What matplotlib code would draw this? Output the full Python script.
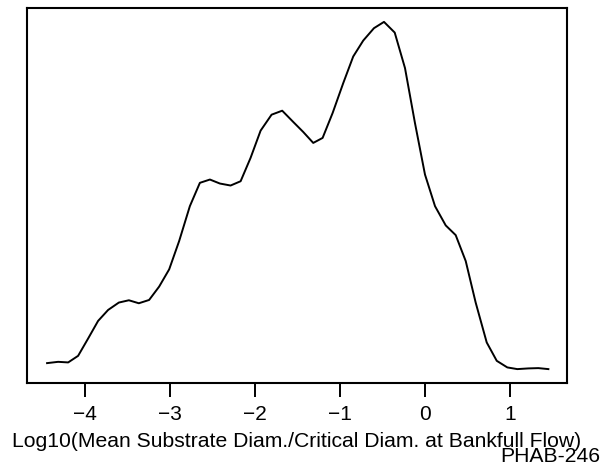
import matplotlib
matplotlib.use("Agg")
import matplotlib.pyplot as plt

plt.rcParams['font.family'] = ['Liberation Sans', 'DejaVu Sans']

x_vals = [-4.444, -4.314, -4.196, -4.079, -3.961, -3.844, -3.726, -3.600, -3.482, -3.365,
          -3.244, -3.126, -3.008, -2.891, -2.765, -2.647, -2.529, -2.412, -2.286, -2.168,
          -2.051, -1.933, -1.804, -1.679, -1.549, -1.432, -1.314, -1.204, -1.086, -0.961,
          -0.844, -0.726, -0.600, -0.482, -0.356, -0.235, -0.118, 0.000, 0.118, 0.244,
          0.361, 0.479, 0.596, 0.726, 0.844, 0.968, 1.086, 1.215, 1.333, 1.451]
density = [0.0060, 0.0073, 0.0067, 0.0133, 0.0307, 0.0483, 0.0593, 0.0667, 0.0690, 0.0660,
           0.0693, 0.0827, 0.1000, 0.1283, 0.1633, 0.1867, 0.1900, 0.1860, 0.1840, 0.1883,
           0.2117, 0.2390, 0.2550, 0.2590, 0.2477, 0.2377, 0.2267, 0.2317, 0.2567, 0.2867,
           0.3133, 0.3293, 0.3417, 0.3480, 0.3373, 0.3017, 0.2467, 0.1950, 0.1633, 0.1440,
           0.1343, 0.1083, 0.0667, 0.0267, 0.0083, 0.0017, 0.0000, 0.0007, 0.0010, 0.0000]
x_ticks = [-4, -3, -2, -1, 0, 1]
x_label = "Log10(Mean Substrate Diam./Critical Diam. at Bankfull Flow)"
corner_note = "PHAB-246"

W, H = 604, 465
fig = plt.figure(figsize=(W / 100, H / 100), dpi=100)
ax = fig.add_axes([27 / W, 1 - 383 / H, (567 - 27) / W, (383 - 8) / H])

ax.plot(x_vals, density, color='black', lw=1.4)

ax.set_xlim(-4.68, 1.67)
ymin, ymax = min(density), max(density)
yr = ymax - ymin
ax.set_ylim(ymin - 0.04 * yr, ymax + 0.04 * yr)

ax.set_yticks([])
ax.set_xticks(x_ticks)
ax.set_xticklabels([str(t).replace('-', '\u2212') for t in x_ticks])
ax.tick_params(axis='x', length=10, width=1.4, pad=6, labelsize=15, direction='out')
for s in ax.spines.values():
    s.set_linewidth(1.5)

fig.text(297 / W, (H - 446.7) / H, x_label, ha='center', va='baseline', fontsize=15.2)
fig.text(600 / W, (H - 461.7) / H, corner_note, ha='right', va='baseline', fontsize=15.2)

fig.savefig("out.png", dpi=100)
